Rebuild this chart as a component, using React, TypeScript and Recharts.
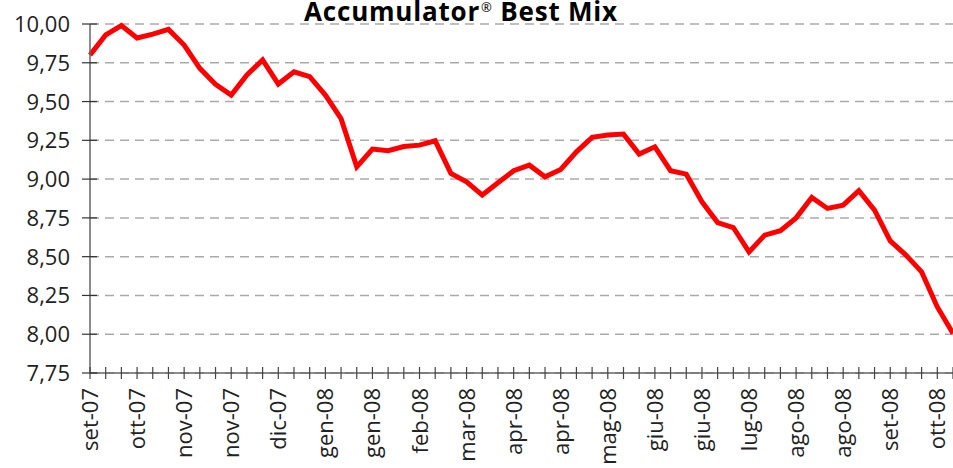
import React from 'react';
import { LineChart, Line, XAxis, YAxis, CartesianGrid } from 'recharts';

const tickLabels = [
  'set-07', 'ott-07', 'nov-07', 'nov-07', 'dic-07', 'gen-08', 'gen-08', 'feb-08', 'mar-08',
  'apr-08', 'apr-08', 'mag-08', 'giu-08', 'giu-08', 'lug-08', 'ago-08', 'ago-08', 'set-08', 'ott-08',
];

const navValues = [
  9.80, 9.93, 9.99, 9.91, 9.935, 9.965, 9.864, 9.714, 9.611, 9.542,
  9.671, 9.768, 9.613, 9.692, 9.66, 9.542, 9.39, 9.079, 9.194, 9.183,
  9.21, 9.219, 9.247, 9.037, 8.983, 8.897, 8.976, 9.054, 9.09, 9.015,
  9.062, 9.176, 9.269, 9.284, 9.29, 9.161, 9.208, 9.054, 9.032, 8.854,
  8.72, 8.688, 8.531, 8.639, 8.667, 8.75, 8.882, 8.811, 8.832, 8.925,
  8.8, 8.602, 8.51, 8.402, 8.176, 8.005,
];

const yTicks = [7.75, 8, 8.25, 8.5, 8.75, 9, 9.25, 9.5, 9.75, 10];

const data = navValues.map((v, i) => ({ week: i, value: v }));

const FONT = '"Open Sans", "Noto Sans", sans-serif';

const XTick = (props: any) => {
  const { x, y, payload } = props;
  const idx = payload.value as number;
  const showLabel = idx % 3 === 0;
  return (
    <g>
      <line x1={x} x2={x} y1={y - 6} y2={y + 6} stroke="#444" strokeWidth={1.2} />
      {showLabel && (
        <text
          x={0}
          y={0}
          transform={`translate(${x + 8},${y + 15}) rotate(-90)`}
          textAnchor="end"
          fontFamily={FONT}
          fontSize={22}
          fill="#222"
        >
          {tickLabels[idx / 3]}
        </text>
      )}
    </g>
  );
};

const YTick = (props: any) => {
  const { x, y, payload } = props;
  const v = payload.value as number;
  return (
    <g>
      <line x1={x - 8} x2={x + 7} y1={y} y2={y} stroke="#333" strokeWidth={1.2} />
      <text
        x={x - 20}
        y={y + 8}
        textAnchor="end"
        fontFamily={FONT}
        fontSize={22}
        fill="#222"
      >
        {v.toFixed(2).replace('.', ',')}
      </text>
    </g>
  );
};

export default function App() {
  return (
    <div style={{ position: 'absolute', left: 0, top: 0, width: 953, height: 468, background: '#fff', overflow: 'hidden' }}>
      <LineChart
        width={953}
        height={468}
        data={data}
        margin={{ top: 24, right: 0, bottom: 0, left: 0 }}
      >
        <CartesianGrid vertical={false} stroke="#aaa" strokeDasharray="9 6" strokeWidth={1.5} />
        <XAxis
          dataKey="week"
          type="category"
          interval={0}
          height={95}
          tickSize={0}
          tickMargin={0}
          tickLine={false}
          axisLine={{ stroke: '#666', strokeWidth: 1.5 }}
          tick={<XTick />}
          padding={{ left: 0, right: 0 }}
        />
        <YAxis
          type="number"
          domain={[7.75, 10]}
          ticks={yTicks}
          width={90}
          tickSize={0}
          tickMargin={0}
          tickLine={false}
          axisLine={{ stroke: '#666', strokeWidth: 1.5 }}
          tick={<YTick />}
          interval={0}
        />
        <Line
          type="linear"
          dataKey="value"
          stroke="#ff0000"
          strokeWidth={5}
          dot={false}
          isAnimationActive={false}
        />
      </LineChart>
      <div
        style={{
          position: 'absolute',
          left: 0,
          width: 922,
          top: 0,
          textAlign: 'center',
          fontFamily: FONT,
          fontWeight: 700,
          fontSize: 26,
          letterSpacing: 0.8,
          color: '#000',
          whiteSpace: 'nowrap',
          lineHeight: '22px',
        }}
      >
        Accumulator<span style={{ fontSize: 13, fontWeight: 400, position: 'relative', top: -9, marginLeft: 1 }}>®</span> Best Mix
      </div>
    </div>
  );
}
